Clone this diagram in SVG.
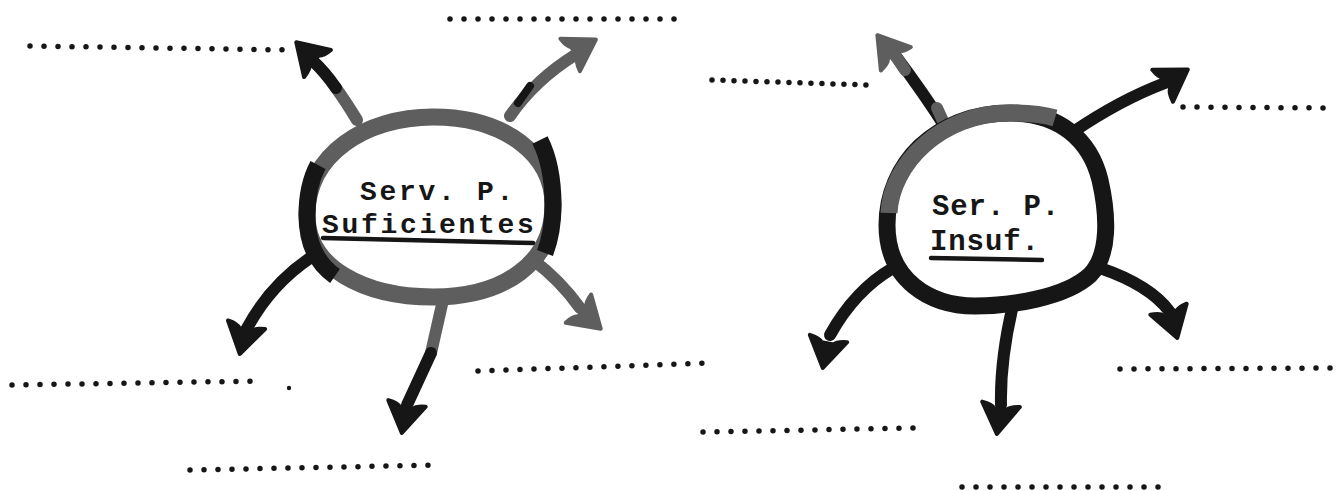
<svg xmlns="http://www.w3.org/2000/svg" xmlns:xlink="http://www.w3.org/1999/xlink" width="1340" height="490" viewBox="0 0 1340 490">
<style>
.ring{fill:#fff;stroke-width:17;stroke-linejoin:round}
.g{stroke:#5e5e5e}
.k{stroke:#161616}
.gf{fill:#5e5e5e;stroke:#5e5e5e}
.kf{fill:#161616;stroke:#161616}
.hd{stroke-width:4;stroke-linejoin:round}
.shaft{fill:none;stroke-width:12;stroke-linecap:round}
.ov{fill:none;stroke-width:17;stroke-linecap:butt}
.dots{fill:none;stroke:#161616;stroke-width:5.5;stroke-linecap:round;stroke-dasharray:0 14}
.lbl{font-family:"Liberation Mono","Courier New",monospace;font-weight:bold;fill:#161616}
.ul{stroke:#161616;stroke-width:4.5;stroke-linecap:round;fill:none}
</style>
<defs>
<path id="hd" d="M1,0 L-29,-19 Q-28,-9 -24,-6 L-24,6 Q-28,9 -29,19 Z"/>
</defs>
<rect width="1340" height="490" fill="#fff"/>

<g id="blanks">
<path class="dots" d="M30,46 L292,50"/>
<path class="dots" d="M450,19 L686,19"/>
<path class="dots" d="M12,385 L262,381"/>
<circle cx="289" cy="388" r="2.2" fill="#161616"/>
<path class="dots" d="M190,470 L440,465"/>
<path class="dots" d="M478,371 L712,363"/>
<path class="dots" d="M712,80 L868,85" style="stroke-dasharray:0 11"/>
<path class="dots" d="M1183,107 L1330,108"/>
<path class="dots" d="M703,432 L915,428"/>
<path class="dots" d="M1120,369 L1330,368"/>
<path class="dots" d="M962,487 L1172,487"/>
</g>

<g id="connectors">
<path class="shaft g" d="M357,120 Q346,102 336,88"/>
<path class="shaft k" d="M336,88 Q325,72 312,60"/>
<use href="#hd" class="hd kf" transform="translate(297,43) rotate(-135)"/>

<path class="shaft g" d="M510,116 Q535,80 575,55"/>
<path class="shaft k" d="M518,103 L530,86" style="stroke-width:8"/>
<use href="#hd" class="hd gf" transform="translate(595,40) rotate(-31)"/>

<path class="shaft k" d="M310,258 Q270,285 246,330"/>
<use href="#hd" class="hd kf" transform="translate(240,353) rotate(103)"/>

<path class="shaft g" d="M443,300 L431,353"/>
<path class="shaft k" d="M431,353 L407,405"/>
<use href="#hd" class="hd kf" transform="translate(402,432) rotate(100)"/>

<path class="shaft g" d="M533,260 Q560,280 580,308"/>
<use href="#hd" class="hd gf" transform="translate(600,328) rotate(42)"/>

<path class="shaft k" d="M947,130 Q925,95 895,55"/>
<path class="shaft g" d="M948,132 L937,108"/>
<path class="shaft g" d="M905,70 L893,52"/>
<use href="#hd" class="hd gf" transform="translate(878,36) rotate(-128)"/>

<path class="shaft k" d="M1073,132 Q1120,100 1165,83"/>
<use href="#hd" class="hd kf" transform="translate(1187,70) rotate(-33)"/>

<path class="shaft k" d="M893,268 Q855,290 830,335"/>
<use href="#hd" class="hd kf" transform="translate(823,367) rotate(101)"/>

<path class="shaft k" d="M1013,305 Q1000,360 1001,405"/>
<use href="#hd" class="hd kf" transform="translate(997,433) rotate(98)"/>

<path class="shaft k" d="M1100,268 Q1150,285 1170,312"/>
<use href="#hd" class="hd kf" transform="translate(1177,337) rotate(73)"/>
</g>

<g id="node-suficientes">
<path class="ring g" d="M307,215 C307,155 365,117 433,117 C505,117 553,155 553,205 C553,262 505,297 433,297 C365,297 307,268 307,215 Z"/>
<path class="ov k" d="M318,165 C310,180 307,200 307,215 C307,240 315,262 335,276"/>
<path class="ov k" d="M540,140 C550,160 553,185 553,205 C553,225 550,240 545,253"/>
<text class="lbl" x="360" y="200" font-size="28" letter-spacing="2.7">Serv. P.</text>
<text class="lbl" x="322" y="233" font-size="28" letter-spacing="2.7">Suficientes</text>
<path class="ul" d="M323,238 L533,243"/>
</g>

<g id="node-insuf">
<path class="ring k" d="M887,225 C887,165 935,113 1010,113 C1060,113 1090,140 1100,180 C1108,215 1110,255 1090,275 C1065,298 1010,306 975,306 C930,306 887,280 887,225 Z"/>
<path class="ov g" d="M889,213 C891,165 940,113 1010,113 C1030,113 1045,115 1055,118"/>
<text class="lbl" x="932" y="215" font-size="29" letter-spacing="0.9">Ser. P.</text>
<text class="lbl" x="930" y="250" font-size="29" letter-spacing="0.9">Insuf.</text>
<path class="ul" d="M931,258 L1042,260"/>
</g>
</svg>
